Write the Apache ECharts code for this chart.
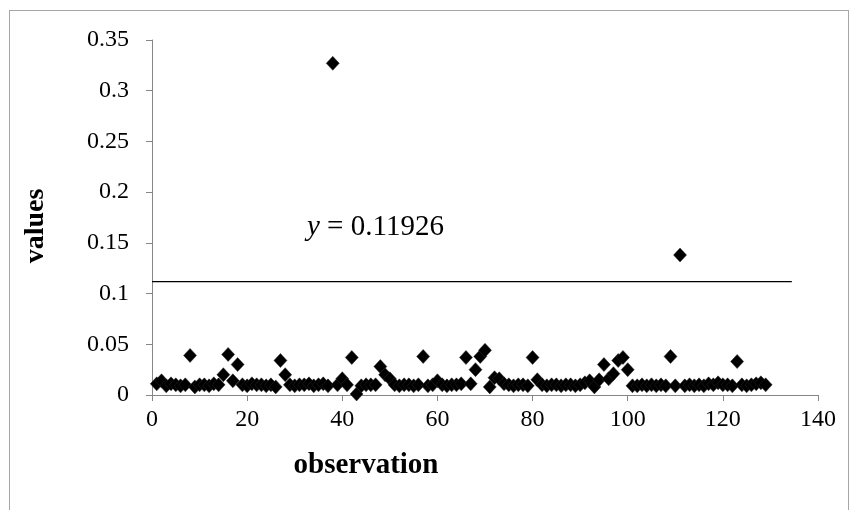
<!DOCTYPE html>
<html>
<head>
<meta charset="utf-8">
<script src="https://cdn.jsdelivr.net/npm/echarts@6/dist/echarts.min.js"></script>
<style>
html,body{margin:0;padding:0;background:#fff;}
#frame{position:absolute;left:9px;top:10px;width:840px;height:520px;border:1px solid #a6a6a6;box-sizing:border-box;}
#chart{position:absolute;left:0;top:0;width:858px;height:510px;}
</style>
</head>
<body>
<div id="frame"></div>
<div id="chart"></div>
<script>
const observations = Array.from({length:129}, (_, i) => i + 1);
const values = [
  0.011,0.014,0.009,0.011,0.010,0.009,0.010,0.039,0.008,0.010,
  0.010,0.009,0.011,0.010,0.020,0.040,0.014,0.030,0.010,0.009,
  0.011,0.010,0.010,0.009,0.010,0.008,0.034,0.020,0.010,0.009,
  0.010,0.010,0.011,0.009,0.010,0.011,0.009,0.327,0.010,0.016,
  0.010,0.037,0.001,0.009,0.010,0.010,0.010,0.028,0.020,0.016,
  0.010,0.009,0.010,0.010,0.009,0.010,0.038,0.009,0.010,0.014,
  0.010,0.009,0.010,0.010,0.011,0.037,0.011,0.025,0.038,0.044,
  0.008,0.017,0.016,0.011,0.010,0.009,0.010,0.010,0.009,0.037,
  0.015,0.010,0.009,0.010,0.010,0.009,0.010,0.010,0.009,0.010,
  0.012,0.014,0.008,0.015,0.030,0.016,0.021,0.034,0.037,0.025,
  0.009,0.009,0.010,0.009,0.010,0.009,0.010,0.009,0.038,0.009,
  0.138,0.009,0.010,0.009,0.010,0.009,0.011,0.010,0.012,0.010,
  0.010,0.009,0.033,0.010,0.009,0.010,0.011,0.012,0.010
];
const trendX = [0, 134.5];
const trendY = 0.1117;
const trendLabel = '0.11926';
const xTicks = [0,20,40,60,80,100,120,140];
const yTicks = [0,0.05,0.1,0.15,0.2,0.25,0.3,0.35];
const xName = 'observation';
const yName = 'values';

const font = 'Liberation Serif, Times New Roman, serif';
const chart = echarts.init(document.getElementById('chart'));
chart.setOption({
  animation:false,
  backgroundColor:'transparent',
  grid:{left:152,right:40,top:40,bottom:115},
  xAxis:{
    type:'value',min:xTicks[0],max:xTicks[xTicks.length-1],interval:20,
    axisLine:{lineStyle:{color:'#868686',width:1}},
    axisTick:{show:true,length:6,lineStyle:{color:'#868686'}},
    axisLabel:{fontFamily:font,fontSize:24,color:'#000',margin:13},
    splitLine:{show:false}
  },
  yAxis:{
    type:'value',min:yTicks[0],max:yTicks[yTicks.length-1],interval:0.05,
    axisLine:{show:true,lineStyle:{color:'#868686',width:1}},
    axisTick:{show:true,length:6,lineStyle:{color:'#868686'}},
    axisLabel:{fontFamily:font,fontSize:24,color:'#000',margin:23,
      formatter:v=>String(Math.round(v*100)/100)},
    splitLine:{show:false}
  },
  series:[
    {
      type:'line',
      data:trendX.map(x=>[x,trendY]),
      symbol:'none',
      lineStyle:{color:'#000',width:1.3},
      z:1
    },
    {
      type:'scatter',
      data:observations.map((x,i)=>[x,values[i]]),
      symbol:'diamond',
      symbolSize:[13,14],
      itemStyle:{color:'#000',borderColor:'#2a2a2a',borderWidth:0.5,opacity:1},
      z:3
    }
  ],
  graphic:[
    {
      type:'text',left:307,top:213,
      style:{
        text:'{i|y} = '+trendLabel,
        rich:{i:{fontStyle:'italic',fontFamily:font,fontSize:29,fill:'#000'}},
        fontFamily:font,fontSize:29,fill:'#000'
      }
    },
    {
      type:'text',x:366,y:466,
      style:{text:xName,fontFamily:font,fontSize:29,fontWeight:'bold',fill:'#000',
        align:'center',verticalAlign:'middle'}
    },
    {
      type:'text',x:36,y:226,rotation:Math.PI/2,
      style:{text:yName,fontFamily:font,fontSize:28,fontWeight:'bold',fill:'#000',
        align:'center',verticalAlign:'middle'}
    }
  ]
});
</script>
</body>
</html>
